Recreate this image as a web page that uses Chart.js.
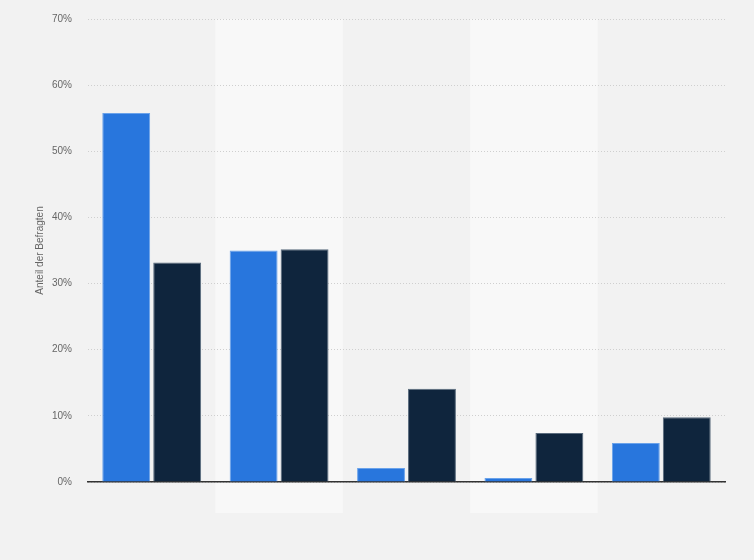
<!DOCTYPE html>
<html>
<head>
<meta charset="utf-8">
<script src="https://cdn.jsdelivr.net/npm/chart.js@4/dist/chart.umd.min.js"></script>
<style>
  html, body { margin: 0; padding: 0; background: #f2f2f2; }
  #wrap { width: 754px; height: 560px; }
</style>
</head>
<body>
<div id="wrap"><canvas id="chart"></canvas></div>
<script>
// Data
const categories = ['1', '2', '3', '4', '5'];
const seriesA = [55.8, 35.0, 2.1, 0.6, 5.9];
const seriesB = [33.2, 35.2, 14.1, 7.4, 9.8];
const yTicks = [0, 10, 20, 30, 40, 50, 60, 70];

// alternating column bands behind the bars
const bandPlugin = {
  id: 'bands',
  beforeDraw(chart) {
    const { ctx, chartArea, scales } = chart;
    const x = scales.x;
    const step = (chartArea.right - chartArea.left) / categories.length;
    ctx.save();
    categories.forEach((c, i) => {
      if (i % 2 === 1) {
        const cx = x.getPixelForValue(i);
        ctx.fillStyle = '#f8f8f8';
        ctx.fillRect(cx - step / 2, chartArea.top, step, chartArea.bottom - chartArea.top + 31);
      }
    });
    ctx.restore();
  }
};

new Chart(document.getElementById('chart'), {
  type: 'bar',
  data: {
    labels: categories,
    datasets: [
      {
        data: seriesA,
        backgroundColor: '#2876dd',
        borderColor: '#6aa2ea',
        borderWidth: 1,
      },
      {
        data: seriesB,
        backgroundColor: '#0f253d',
        borderColor: '#5a6b7d',
        borderWidth: 1,
      },
    ],
  },
  options: {
    responsive: true,
    maintainAspectRatio: false,
    animation: false,
    categoryPercentage: 0.8,
    barPercentage: 0.94,
    layout: { padding: { top: 0, right: 29, bottom: 70, left: 34 } },
    plugins: {
      legend: { display: false },
      tooltip: { enabled: false },
    },
    scales: {
      x: {
        grid: { display: false },
        border: { display: true, color: '#333', width: 1.5 },
        ticks: { display: false },
      },
      y: {
        min: 0,
        max: 70,
        afterBuildTicks(scale) {
          scale.ticks = yTicks.map((v) => ({ value: v }));
        },
        afterFit(scale) {
          scale.width = 54;
          scale.paddingTop = 19;
        },
        border: { display: false, dash: [1, 2] },
        grid: { color: '#cfcfcf', lineWidth: 1, drawTicks: false },
        ticks: {
          color: '#666',
          font: { family: 'Arial, Liberation Sans, sans-serif', size: 10 },
          padding: 16,
          callback: (v) => v + '%',
        },
        title: {
          display: true,
          text: 'Anteil der Befragten',
          color: '#666',
          font: { family: 'Arial, Liberation Sans, sans-serif', size: 10 },
          padding: { top: 0, bottom: 0 },
        },
      },
    },
  },
  plugins: [bandPlugin],
});
</script>
</body>
</html>
